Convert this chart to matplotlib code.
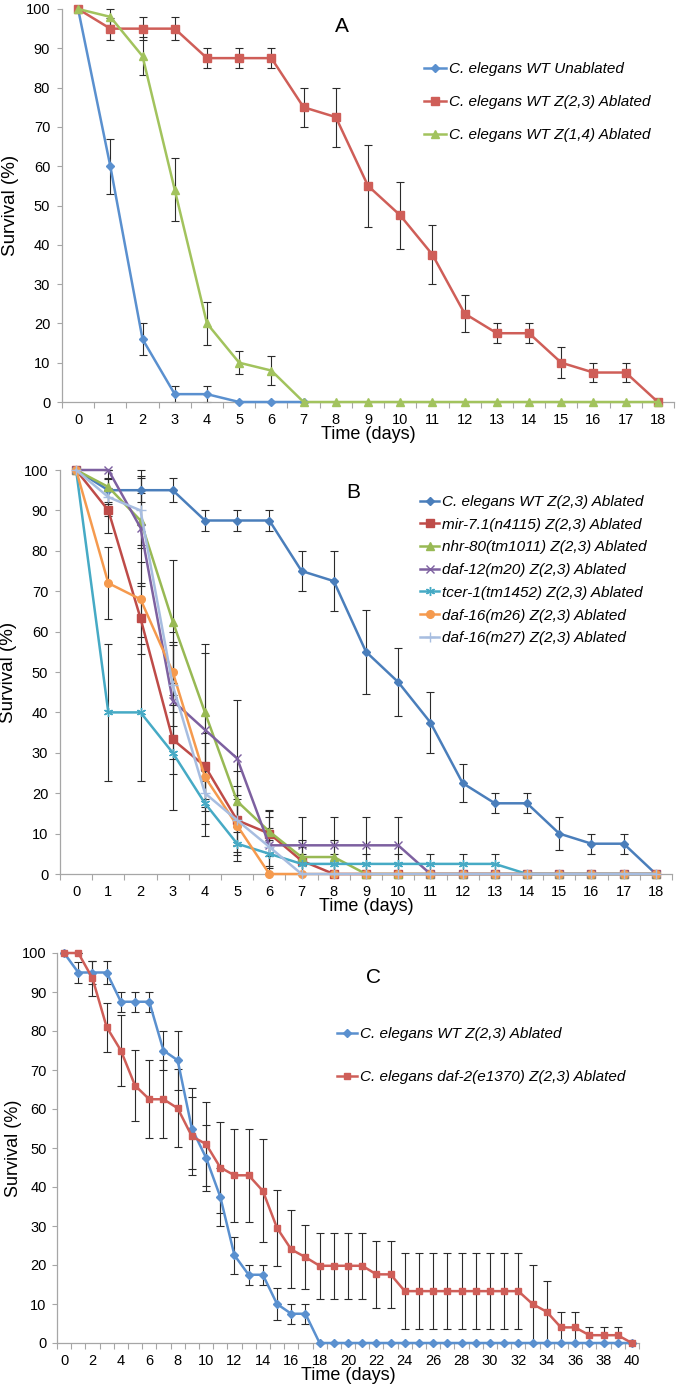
import matplotlib
matplotlib.use('Agg')
import matplotlib.pyplot as plt
import numpy as np

plt.rcParams['font.family'] = ['Liberation Sans', 'DejaVu Sans']

# ---------------- data ----------------
# Panel A (days 0..18)
a_days = list(range(19))
a_unablated = [100, 60, 16, 2, 2, 0, 0, 0]
a_unablated_err = [0, 7, 4, 2, 2, 0, 0, 0]
wt_z23 = [100, 95, 95, 95, 87.5, 87.5, 87.5, 75, 72.5, 55, 47.5, 37.5, 22.5, 17.5, 17.5, 10, 7.5, 7.5, 0]
wt_z23_err = [0, 2.8, 3, 3, 2.5, 2.5, 2.5, 5, 7.5, 10.4, 8.5, 7.5, 4.8, 2.5, 2.5, 4, 2.5, 2.5, 0]
a_z14 = [100, 98, 88, 54, 20, 10, 8, 0, 0, 0, 0, 0, 0, 0, 0, 0, 0, 0, 0]
a_z14_err = [0, 2, 4.8, 8, 5.5, 3, 3.7, 0, 0, 0, 0, 0, 0, 0, 0, 0, 0, 0, 0]

# Panel B (days 0..18)
b_mir = [100, 90, 63.3, 33.3, 26.7, 13.3, 10, 3.3, 0, 0, 0, 0, 0, 0, 0, 0, 0, 0, 0]
b_mir_err = [0, 5.5, 8.8, 8.6, 8.1, 6.2, 5.5, 3.3, 0, 0, 0, 0, 0, 0, 0, 0, 0, 0, 0]
b_nhr = [100, 95.8, 87.5, 62.5, 40, 18, 10.5, 4.2, 4.2, 0, 0, 0, 0, 0, 0, 0, 0, 0, 0]
b_nhr_err = [0, 4.1, 6.7, 15.3, 17, 7.5, 5.4, 4.1, 4.1, 0, 0, 0, 0, 0, 0, 0, 0, 0, 0]
b_daf12 = [100, 100, 85.7, 42.9, 35.7, 28.6, 7.1, 7.1, 7.1, 7.1, 7.1, 0, 0, 0, 0, 0, 0, 0, 0]
b_daf12_err = [0, 0, 14.3, 14.5, 19, 14.4, 7.1, 7.1, 7.1, 7.1, 7.1, 0, 0, 0, 0, 0, 0, 0, 0]
b_tcer = [100, 40, 40, 30, 17.5, 7.5, 5, 2.5, 2.5, 2.5, 2.5, 2.5, 2.5, 2.5, 0, 0, 0, 0, 0]
b_tcer_err = [0, 17, 17, 14.2, 8, 4.2, 3.4, 2.5, 2.5, 2.5, 2.5, 2.5, 2.5, 2.5, 0, 0, 0, 0, 0]
b_m26 = [100, 72, 68, 50, 24, 12, 0, 0, 0, 0, 0, 0, 0, 0, 0, 0, 0, 0, 0]
b_m26_err = [0, 9, 9.3, 10, 8.5, 6.5, 0, 0, 0, 0, 0, 0, 0, 0, 0, 0, 0, 0, 0]
b_m27 = [100, 93.3, 90, 46.7, 20, 13.3, 6.7, 0, 0, 0, 0, 0, 0, 0, 0, 0, 0, 0, 0]
b_m27_err = [0, 4.6, 8.6, 10, 7.5, 8.6, 4.6, 0, 0, 0, 0, 0, 0, 0, 0, 0, 0, 0, 0]

# Panel C (days 0..40)
c_days = list(range(41))
c_wt = [100, 95, 95, 95, 87.5, 87.5, 87.5, 75, 72.5, 55, 47.5, 37.5, 22.5, 17.5, 17.5, 10, 7.5, 7.5,
        0, 0, 0, 0, 0, 0, 0, 0, 0, 0, 0, 0, 0, 0, 0, 0, 0, 0, 0, 0, 0, 0, 0]
c_wt_err = [0, 2.8, 3, 3, 2.5, 2.5, 2.5, 5, 7.5, 10.4, 8.5, 7.5, 4.8, 2.5, 2.5, 4, 2.5, 2.5,
            0, 0, 0, 0, 0, 0, 0, 0, 0, 0, 0, 0, 0, 0, 0, 0, 0, 0, 0, 0, 0, 0, 0]
c_daf2 = [100, 100, 93.5, 81, 75, 66, 62.5, 62.5, 60.2, 53, 51, 45, 43, 43, 39, 29.5, 24, 22,
          19.8, 19.8, 19.8, 19.8, 17.6, 17.6, 13.3, 13.3, 13.3, 13.3, 13.3, 13.3, 13.3, 13.3, 13.3,
          10, 8, 4, 4, 2, 2, 2, 0]
c_daf2_err = [0, 0, 4.4, 6.3, 9, 9.2, 10, 10, 10, 10, 10.7, 11.7, 12, 12, 13.2, 9.8, 10, 8.2,
              8.5, 8.5, 8.5, 8.5, 8.6, 8.6, 9.7, 9.7, 9.7, 9.7, 9.7, 9.7, 9.7, 9.7, 9.7,
              10, 8, 4, 4, 2, 2, 2, 0]

labels_a = ['C. elegans WT Unablated', 'C. elegans WT Z(2,3) Ablated', 'C. elegans WT Z(1,4) Ablated']
labels_b = ['C. elegans WT Z(2,3) Ablated', 'mir-7.1(n4115) Z(2,3) Ablated', 'nhr-80(tm1011) Z(2,3) Ablated',
            'daf-12(m20) Z(2,3) Ablated', 'tcer-1(tm1452) Z(2,3) Ablated', 'daf-16(m26) Z(2,3) Ablated',
            'daf-16(m27) Z(2,3) Ablated']
labels_c = ['C. elegans WT Z(2,3) Ablated', 'C. elegans daf-2(e1370) Z(2,3) Ablated']

# ---------------- figure ----------------
W, H = 676, 1396
fig = plt.figure(figsize=(W / 100, H / 100), dpi=100)
SPINE = '#A6A6A6'
ECOL = '#2b2b2b'


def add_axes_px(left, right, top, bottom):
    return fig.add_axes([left / W, 1 - bottom / H, (right - left) / W, (bottom - top) / H])


def style(ax, xmax, step, ylabpad=5, ypad=5, ylabsize=13.5):
    ax.set_xlim(-0.5, xmax + 0.5)
    ax.set_ylim(0, 100)
    ax.set_yticks(range(0, 101, 10))
    ax.set_xticks(range(0, xmax + 1, step))
    ax.set_xticks(np.arange(-0.5, xmax + 1, 1), minor=True)
    ax.tick_params(axis='x', which='major', length=0, pad=8, labelsize=10.5)
    ax.tick_params(axis='x', which='minor', length=4, color=SPINE, direction='out', width=0.8)
    ax.tick_params(axis='y', which='major', length=3.5, color=SPINE, width=0.8, pad=ypad, labelsize=10.5)
    for s in ['top', 'right']:
        ax.spines[s].set_visible(False)
    for s in ['left', 'bottom']:
        ax.spines[s].set_color(SPINE)
        ax.spines[s].set_linewidth(0.9)
    ax.set_xlabel('Time (days)', fontsize=13, labelpad=-1)
    ax.set_ylabel('Survival (%)', fontsize=ylabsize, labelpad=ylabpad)


def series(ax, x, y, err, color, marker, ms, label, mew=1.0, lw=1.8):
    ax.errorbar(x, y, yerr=err, fmt='none', ecolor=ECOL, elinewidth=0.8, capsize=2.8,
                capthick=0.8, zorder=2, clip_on=False)
    ln, = ax.plot(x, y, color=color, lw=lw, marker=marker, ms=ms, mfc=color, mec=color,
                  mew=mew, label=label, zorder=3, clip_on=False)
    return ln


def legend(ax, handles, labels, x_px, y_px, spacing, hl):
    ax.legend(handles, labels, loc='upper left', bbox_to_anchor=(x_px / W, 1 - y_px / H),
              bbox_transform=fig.transFigure, frameon=False,
              prop=dict(style='italic', size=11), handlelength=hl, handletextpad=0.2,
              labelspacing=spacing, borderpad=0, borderaxespad=0, numpoints=1)


# Panel A
axA = add_axes_px(62, 674, 9, 402)
hA = [
    series(axA, a_days[:len(a_unablated)], a_unablated, a_unablated_err, '#5A90CF', 'D', 4.2, labels_a[0]),
    series(axA, a_days, wt_z23, wt_z23_err, '#CF5E58', 's', 5.5, labels_a[1]),
    series(axA, a_days, a_z14, a_z14_err, '#A2C35D', '^', 5.5, labels_a[2]),
]
style(axA, 18, 1)
axA.text(8.2, 95.5, 'A', fontsize=15, ha='center', va='center')
legend(axA, hA, labels_a, 424, 62, 1.25, 1.45)

# Panel B
axB = add_axes_px(60, 672, 470, 874)
hB = [
    series(axB, a_days, wt_z23, wt_z23_err, '#4A7EBB', 'D', 4.2, labels_b[0]),
    series(axB, a_days, b_mir, b_mir_err, '#BE4B48', 's', 5.5, labels_b[1]),
    series(axB, a_days, b_nhr, b_nhr_err, '#98B954', '^', 5.5, labels_b[2]),
    series(axB, a_days, b_daf12, b_daf12_err, '#7D60A0', 'x', 5.5, labels_b[3], mew=1.0),
    series(axB, a_days, b_tcer, b_tcer_err, '#46AAC5', (6, 2, 0), 6.5, labels_b[4], mew=1.0),
    series(axB, a_days, b_m26, b_m26_err, '#F59A4E', 'o', 5.5, labels_b[5]),
    series(axB, a_days, b_m27, b_m27_err, '#A7BDE0', '+', 6.5, labels_b[6], mew=1.0),
]
style(axB, 18, 1)
axB.text(8.6, 94.5, 'B', fontsize=15, ha='center', va='center')
legend(axB, hB, labels_b, 420, 495, 0.57, 1.25)

# Panel C
axC = add_axes_px(57, 639, 953, 1343)
hC = [
    series(axC, c_days, c_wt, c_wt_err, '#5A90CF', 'D', 3.8, labels_c[0]),
    series(axC, c_days, c_daf2, c_daf2_err, '#CF5E58', 's', 5.0, labels_c[1]),
]
style(axC, 40, 2, ylabpad=0, ypad=4, ylabsize=13)
axC.text(21.8, 93.6, 'C', fontsize=15, ha='center', va='center')
legend(axC, hC, labels_c, 337, 1027, 1.9, 1.3)

fig.savefig('out.png', dpi=100)
